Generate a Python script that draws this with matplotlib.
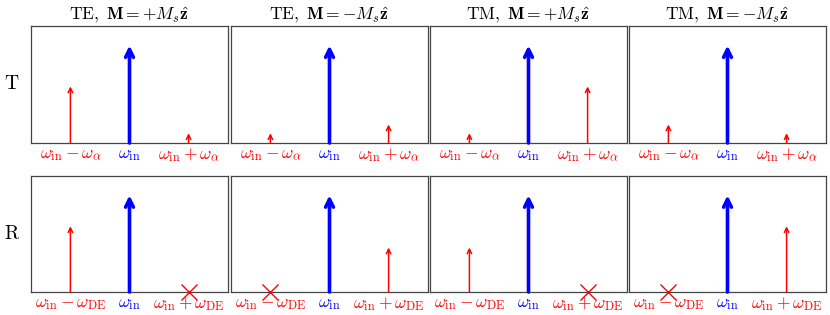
import matplotlib
matplotlib.use("Agg")
import matplotlib.pyplot as plt

plt.rcParams['mathtext.fontset'] = 'cm'
plt.rcParams['font.family'] = 'DejaVu Serif'

# column titles and row labels
titles = [r"$\mathrm{TE},\ \mathbf{M}=+M_s\hat{\mathbf{z}}$",
          r"$\mathrm{TE},\ \mathbf{M}=-M_s\hat{\mathbf{z}}$",
          r"$\mathrm{TM},\ \mathbf{M}=+M_s\hat{\mathbf{z}}$",
          r"$\mathrm{TM},\ \mathbf{M}=-M_s\hat{\mathbf{z}}$"]
row_labels = [r"$\mathrm{T}$", r"$\mathrm{R}$"]

# sideband positions: lower, carrier, upper
freqs = [-1, 0, 1]
tick_T = [r"$\omega_{\mathrm{in}}-\omega_{\alpha}$", r"$\omega_{\mathrm{in}}$",
          r"$\omega_{\mathrm{in}}+\omega_{\alpha}$"]
tick_R = [r"$\omega_{\mathrm{in}}-\omega_{\mathrm{DE}}$", r"$\omega_{\mathrm{in}}$",
          r"$\omega_{\mathrm{in}}+\omega_{\mathrm{DE}}$"]

# amplitudes (relative, carrier = 1); None = forbidden (cross)
T_amp = [[0.58, 1.0, 0.10],
         [0.10, 1.0, 0.19],
         [0.10, 1.0, 0.58],
         [0.19, 1.0, 0.10]]
R_amp = [[0.68, 1.0, None],
         [None, 1.0, 0.46],
         [0.46, 1.0, None],
         [None, 1.0, 0.68]]

fig = plt.figure(figsize=(8.3, 3.15), dpi=100)

lefts = [31, 231, 430, 629]
rows = [(143, 26), (292, 176)]
W, H = 830, 315

for r, (amps, ticks) in enumerate([(T_amp, tick_T), (R_amp, tick_R)]):
    bot, top = rows[r]
    for c in range(4):
        ax = fig.add_axes([lefts[c] / W, 1 - bot / H, 197 / W, (bot - top) / H])
        ax.set_xlim(-5 / 3, 5 / 3)
        ax.set_ylim(0, 1.2)
        ax.set_yticks([])
        ax.set_xticks(freqs)
        ax.set_xticklabels(ticks, fontsize=12.5)
        ax.tick_params(axis='x', length=0, pad=2)
        for lab, col in zip(ax.get_xticklabels(), ['red', 'blue', 'red']):
            lab.set_color(col)
        for s in ax.spines.values():
            s.set_color('#444444')
            s.set_linewidth(0.9)
        for f, a in zip(freqs, amps[c]):
            col = 'blue' if f == 0 else 'red'
            lw = 2.6 if f == 0 else 1.1
            ms = 14 if f == 0 else 8
            if a is None:
                ax.plot(f, 0, marker='x', color='red', markersize=11,
                        markeredgewidth=1.0, clip_on=False, zorder=5)
            else:
                ax.annotate('', xy=(f, a), xytext=(f, 0),
                            arrowprops=dict(arrowstyle='->', color=col, lw=lw,
                                            mutation_scale=ms, shrinkA=0, shrinkB=0))
        if r == 0:
            ax.set_title(titles[c], fontsize=12.5, pad=5)
    fig.text(12 / W, 1 - ((bot + top) / 2) / H, row_labels[r], fontsize=14,
             ha='center', va='center')

fig.savefig("out.png", dpi=100)
